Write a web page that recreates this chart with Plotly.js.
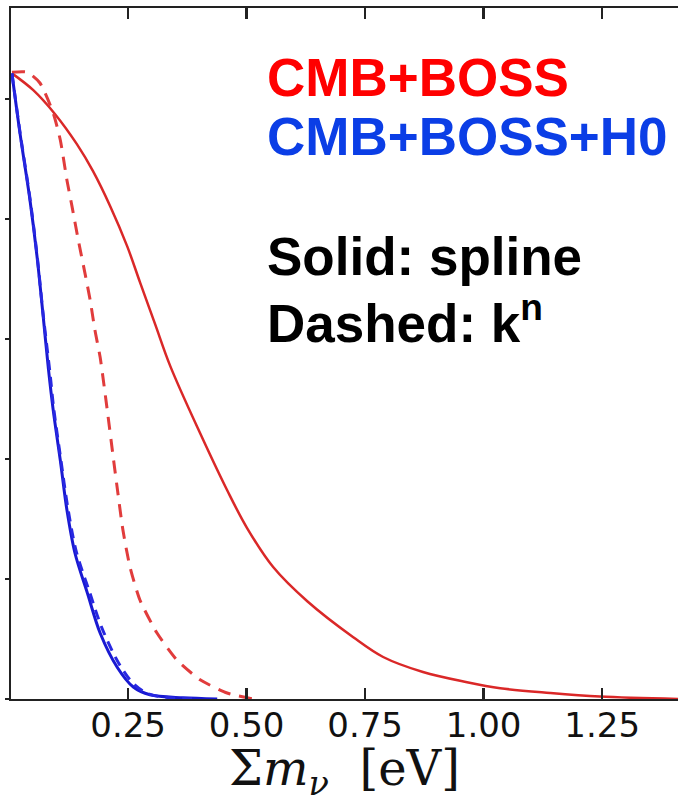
<!DOCTYPE html>
<html>
<head>
<meta charset="utf-8">
<script src="https://cdn.plot.ly/plotly-3.0.1.min.js"></script>
<style>html,body{margin:0;padding:0;background:#fff;}#chart{width:678px;height:803px;}</style>
</head>
<body>
<div id="chart"></div>
<script>
// CMB+BOSS, spline (solid)
const redSolidX = [0.005, 0.050, 0.096, 0.142, 0.176, 0.212, 0.248, 0.275, 0.307, 0.339, 0.402, 0.459, 0.501, 0.556, 0.628, 0.725, 0.788, 0.872, 0.965, 1.035, 1.140, 1.245, 1.410];
const redSolidY = [1.043, 1.015, 0.975, 0.925, 0.880, 0.822, 0.755, 0.695, 0.625, 0.555, 0.443, 0.348, 0.285, 0.220, 0.163, 0.103, 0.070, 0.045, 0.028, 0.018, 0.010, 0.004, 0.000];
// CMB+BOSS, k^n (dashed)
const redDashX = [0.005, 0.037, 0.064, 0.092, 0.107, 0.121, 0.132, 0.145, 0.159, 0.170, 0.180, 0.191, 0.206, 0.218, 0.229, 0.239, 0.254, 0.275, 0.311, 0.353, 0.402, 0.459, 0.514];
const redDashY = [1.045, 1.045, 1.027, 0.977, 0.932, 0.865, 0.820, 0.765, 0.710, 0.665, 0.615, 0.570, 0.482, 0.407, 0.340, 0.282, 0.220, 0.165, 0.110, 0.065, 0.032, 0.010, 0.000];
// CMB+BOSS+H0, spline (solid)
const blueSolidX = [0.005, 0.022, 0.043, 0.058, 0.071, 0.082, 0.092, 0.107, 0.121, 0.138, 0.164, 0.191, 0.227, 0.261, 0.296, 0.366, 0.438];
const blueSolidY = [1.043, 0.943, 0.832, 0.737, 0.637, 0.550, 0.482, 0.398, 0.315, 0.243, 0.177, 0.110, 0.053, 0.020, 0.007, 0.002, 0.000];
// CMB+BOSS+H0, k^n (dashed)
const blueDashX = [0.005, 0.022, 0.043, 0.058, 0.071, 0.085, 0.093, 0.108, 0.123, 0.141, 0.168, 0.195, 0.230, 0.262, 0.295, 0.340, 0.400];
const blueDashY = [1.043, 0.945, 0.835, 0.740, 0.640, 0.545, 0.485, 0.400, 0.318, 0.245, 0.180, 0.118, 0.060, 0.025, 0.008, 0.002, 0.000];

const xTickVals = [0.25, 0.50, 0.75, 1.00, 1.25];
const xTickText = ['0.25', '0.50', '0.75', '1.00', '1.25'];
const yTickVals = [0, 0.2, 0.4, 0.6, 0.8, 1.0];

const labels = ['CMB+BOSS', 'CMB+BOSS+H0', 'Solid: spline', 'Dashed: k<sup>n</sup>'];
const labelColors = ['#ff0000', '#0b3ee6', '#000000', '#000000'];

const red = 'rgb(218,40,40)';
const blue = 'rgb(25,25,210)';

const traces = [
  {x: redSolidX, y: redSolidY, mode: 'lines', line: {color: red, width: 2.5, shape: 'spline', smoothing: 1}},
  {x: redDashX, y: redDashY, mode: 'lines', line: {color: 'rgb(225,60,60)', width: 3, dash: '13px,9px', shape: 'spline', smoothing: 0.6}},
  {x: blueSolidX, y: blueSolidY, mode: 'lines', line: {color: blue, width: 3, shape: 'spline', smoothing: 0.9}},
  {x: blueDashX, y: blueDashY, mode: 'lines', line: {color: 'rgb(40,40,225)', width: 3, dash: '10px,7px', shape: 'spline', smoothing: 0.9}}
];

const labelY = [77.5, 136, 256, 319]; // pixel centers
const annotations = labels.map((t, i) => ({
  text: t, xref: 'paper', yref: 'paper',
  x: (265 - 11) / 667, y: (699 - labelY[i]) / 691,
  xanchor: 'left', yanchor: 'middle', showarrow: false,
  font: {family: 'Liberation Sans, Arial, sans-serif', size: 53, color: labelColors[i], weight: 'bold'}
}));

const layout = {
  width: 678, height: 803,
  margin: {l: 11, r: 0, t: 8, b: 104, pad: 0},
  paper_bgcolor: '#fff', plot_bgcolor: '#fff',
  showlegend: false,
  xaxis: {
    range: [0.003, 1.41], tickvals: xTickVals, ticktext: xTickText,
    ticks: 'inside', ticklen: 11, tickwidth: 2.5, tickcolor: '#222',
    showline: true, linecolor: '#222', linewidth: 2, mirror: 'allticks', layer: 'above traces',
    showgrid: false, zeroline: false, ticklabelstandoff: -5,
    tickfont: {family: 'DejaVu Sans, sans-serif', size: 34, color: '#111'},
    title: {text: 'Σ<i>m</i><sub><i>ν</i></sub>  [eV]', font: {family: 'DejaVu Serif, Liberation Serif, serif', size: 48, color: '#111'}, standoff: 16}
  },
  yaxis: {
    range: [0, 1.152], tickvals: yTickVals, showticklabels: false,
    ticks: 'outside', ticklen: 4, tickwidth: 2, tickcolor: '#222',
    showline: true, linecolor: '#222', linewidth: 2, mirror: false,
    showgrid: false, zeroline: false
  },
  annotations: annotations
};

Plotly.newPlot('chart', traces, layout, {displayModeBar: false, staticPlot: true});
</script>
</body>
</html>
